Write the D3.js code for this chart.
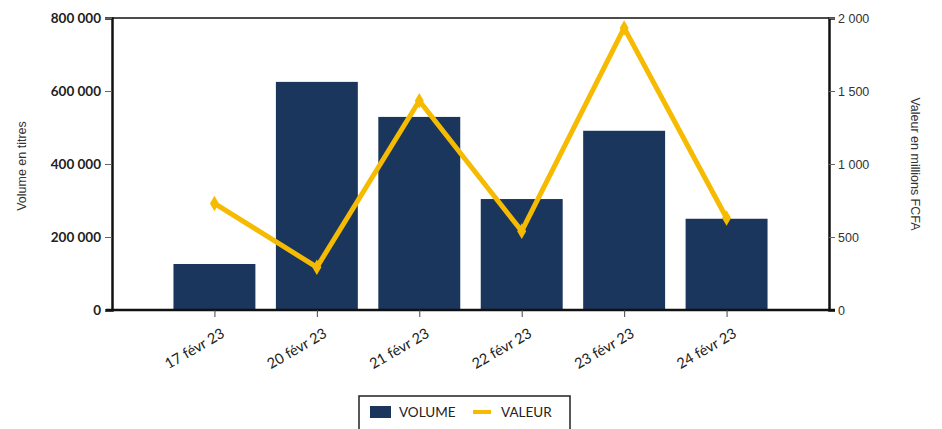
<!DOCTYPE html>
<html><head><meta charset="utf-8">
<script src="https://cdn.jsdelivr.net/npm/d3@7"></script>
<style>body{margin:0;background:#fff}svg{display:block}</style>
</head><body>
<script>
const categories = ["17 févr 23","20 févr 23","21 févr 23","22 févr 23","23 févr 23","24 févr 23"];
const volume = [126000, 625000, 529000, 304000, 491000, 250000];
const valeur = [730, 293, 1433, 540, 1932, 630];
const leftTicks = [0, 200000, 400000, 600000, 800000];
const rightTicks = [0, 500, 1000, 1500, 2000];

const W = 942, H = 429;
const m = {l:112, r:113, t:18, b:119};
const svg = d3.select("body").append("svg").attr("width", W).attr("height", H);
const x = d3.scalePoint().domain(categories).range([m.l, W - m.r]).padding(1);
const yL = d3.scaleLinear().domain([0, 800000]).range([H - m.b, m.t]);
const yR = d3.scaleLinear().domain([0, 2000]).range([H - m.b, m.t]);
const fmt = d => d3.format(",")(d).replace(/,/g, " ");
const bw = x.step() * 0.8;

svg.selectAll("rect.bar").data(volume).join("rect").attr("class","bar")
  .attr("x", (d,i) => x(categories[i]) - bw/2).attr("width", bw)
  .attr("y", d => yL(d)).attr("height", d => yL(0) - yL(d))
  .attr("fill", "#1b365d");

// frame
svg.append("line").attr("x1", m.l).attr("x2", W - m.r).attr("y1", m.t).attr("y2", m.t)
  .attr("stroke", "#111").attr("stroke-width", 1.5);

const gL = svg.append("g").attr("transform", `translate(${m.l},0)`)
  .call(d3.axisLeft(yL).tickValues(leftTicks).tickFormat(fmt).tickSizeOuter(0).tickSize(7));
gL.select(".domain").attr("stroke", "#111").attr("stroke-width", 2.5);
gL.selectAll(".tick line").attr("stroke", "#666");
gL.selectAll(".tick text").attr("font-family", "Lato, sans-serif").attr("font-size", 13.5)
  .attr("fill", "#222").attr("font-weight", 700).attr("dx", -1);

const gR = svg.append("g").attr("transform", `translate(${W - m.r},0)`)
  .call(d3.axisRight(yR).tickValues(rightTicks).tickFormat(fmt).tickSizeOuter(0).tickSize(6));
gR.select(".domain").attr("stroke", "#111").attr("stroke-width", 2.5);
gR.selectAll(".tick line").attr("stroke", "#666");
gR.selectAll(".tick text").attr("font-family", "Liberation Sans, Arial, sans-serif").attr("font-size", 12.5)
  .attr("fill", "#333");

const gB = svg.append("g").attr("transform", `translate(0,${H - m.b})`)
  .call(d3.axisBottom(x).tickSizeOuter(0).tickSize(7));
gB.select(".domain").attr("stroke", "#111").attr("stroke-width", 2.5).attr("d", `M${m.l - 6},0H${W - m.r + 6}`);
gB.selectAll(".tick line").attr("stroke", "#444");
gB.selectAll(".tick text").attr("font-family", "Lato, sans-serif").attr("font-size", 14.5)
  .attr("fill", "#222").attr("text-anchor", "end")
  .attr("transform", "translate(8,22) rotate(-30)").attr("dy", "0.35em").attr("y", 0);

// line
const line = d3.line().x((d,i) => x(categories[i])).y(d => yR(d));
svg.append("path").datum(valeur).attr("d", line).attr("fill", "none")
  .attr("stroke", "#f6bb00").attr("stroke-width", 5).attr("stroke-linejoin", "miter");
svg.selectAll("path.mk").data(valeur).join("path").attr("class","mk")
  .attr("d", d3.symbol(d3.symbolDiamond, 70))
  .attr("transform", (d,i) => `translate(${x(categories[i])},${yR(d)})`)
  .attr("fill", "#f6bb00");

// axis titles
svg.append("text").attr("transform", `translate(26,${(m.t + H - m.b)/2 + 2}) rotate(-90)`)
  .attr("text-anchor", "middle").attr("font-family", "Liberation Sans, Arial, sans-serif").attr("font-size", 12.5)
  .attr("fill", "#333").text("Volume en titres");
svg.append("text").attr("transform", `translate(911,${(m.t + H - m.b)/2}) rotate(90)`)
  .attr("text-anchor", "middle").attr("font-family", "Liberation Sans, Arial, sans-serif").attr("font-size", 12.5)
  .attr("fill", "#333").text("Valeur en millions FCFA");

// legend
const lg = svg.append("g");
lg.append("rect").attr("x", 359).attr("y", 396).attr("width", 211).attr("height", 40)
  .attr("fill", "#fff").attr("stroke", "#222").attr("stroke-width", 1.5);
lg.append("rect").attr("x", 370).attr("y", 406).attr("width", 21).attr("height", 12).attr("fill", "#1b365d");
lg.append("text").attr("x", 399).attr("y", 417).attr("font-family", "Lato, sans-serif").attr("font-size", 13.5)
  .attr("fill", "#222").text("VOLUME");
lg.append("line").attr("x1", 473).attr("x2", 491).attr("y1", 412).attr("y2", 412)
  .attr("stroke", "#f6bb00").attr("stroke-width", 4);
lg.append("text").attr("x", 501).attr("y", 417).attr("font-family", "Lato, sans-serif").attr("font-size", 13.5)
  .attr("fill", "#222").text("VALEUR");
</script>
</body></html>
